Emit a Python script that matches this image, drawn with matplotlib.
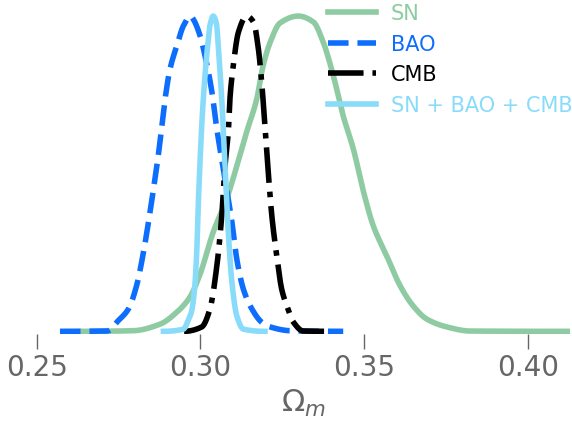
import matplotlib.pyplot as plt
import numpy as np

# marginal posteriors of Omega_m (peak normalised to 1)
sn_x = [0.2640, 0.2795, 0.2877, 0.2928, 0.2968, 0.2999, 0.3039, 0.3080, 0.3111,
        0.3141, 0.3172, 0.3191, 0.3213, 0.3243, 0.3299, 0.3345, 0.3375, 0.3406,
        0.3436, 0.3467, 0.3498, 0.3528, 0.3569, 0.3610, 0.3650, 0.3691, 0.3752,
        0.3823, 0.4128]
sn_y = [0.0, 0.002, 0.023, 0.061, 0.109, 0.182, 0.315, 0.420, 0.524,
        0.632, 0.737, 0.841, 0.917, 0.978, 1.0, 0.981, 0.917, 0.810,
        0.683, 0.578, 0.442, 0.334, 0.239, 0.144, 0.080, 0.039, 0.014,
        0.001, 0.0]

bao_x = [0.2571, 0.2715, 0.2749, 0.2780, 0.2805, 0.2826, 0.2846, 0.2861, 0.2871,
         0.2882, 0.2892, 0.2907, 0.2928, 0.2948, 0.2970, 0.2978, 0.2999, 0.3014,
         0.3035, 0.3050, 0.3065, 0.3080, 0.3096, 0.3111, 0.3131, 0.3157, 0.3187,
         0.3213, 0.3274, 0.3436]
bao_y = [0.0, 0.001, 0.034, 0.071, 0.145, 0.251, 0.378, 0.483, 0.556,
         0.651, 0.737, 0.832, 0.906, 0.969, 1.0, 0.990, 0.937, 0.874,
         0.759, 0.642, 0.546, 0.451, 0.347, 0.229, 0.134, 0.071, 0.029,
         0.014, 0.002, 0.0]

cmb_x = [0.2950, 0.3004, 0.3029, 0.3050, 0.3065, 0.3075, 0.3085, 0.3090, 0.3100,
         0.3116, 0.3141, 0.3162, 0.3177, 0.3187, 0.3197, 0.3207, 0.3218, 0.3233,
         0.3248, 0.3264, 0.3284, 0.3314, 0.3396]
cmb_y = [0.0, 0.014, 0.071, 0.207, 0.366, 0.524, 0.632, 0.737, 0.841,
         0.949, 1.0, 0.981, 0.895, 0.790, 0.651, 0.505, 0.366, 0.239,
         0.134, 0.080, 0.029, 0.001, 0.0]

all_x = [0.2887, 0.2948, 0.2962, 0.2973, 0.2982, 0.2989, 0.2994, 0.2999, 0.3005,
         0.3013, 0.3021, 0.3030, 0.3039, 0.3049, 0.3055, 0.3065, 0.3075, 0.3085,
         0.3096, 0.3111, 0.3131, 0.3197]
all_y = [0.0, 0.007, 0.033, 0.064, 0.134, 0.261, 0.420, 0.546, 0.673,
         0.800, 0.895, 0.975, 1.0, 0.975, 0.895, 0.737, 0.524, 0.315,
         0.156, 0.049, 0.007, 0.0]

xticks = [0.25, 0.30, 0.35, 0.40]

grey = '#666666'


def pchip(x, y, n=500):
    # monotone cubic through the read points, so the curves come out smooth
    x = np.asarray(x, float)
    y = np.asarray(y, float)
    h = np.diff(x)
    d = np.diff(y) / h
    m = np.zeros_like(y)
    for i in range(1, len(x) - 1):
        if d[i - 1] * d[i] > 0:
            w1 = 2 * h[i] + h[i - 1]
            w2 = h[i] + 2 * h[i - 1]
            m[i] = (w1 + w2) / (w1 / d[i - 1] + w2 / d[i])
    xs = np.linspace(x[0], x[-1], n)
    k = np.clip(np.searchsorted(x, xs) - 1, 0, len(h) - 1)
    t = (xs - x[k]) / h[k]
    h00 = 2 * t**3 - 3 * t**2 + 1
    h10 = t**3 - 2 * t**2 + t
    h01 = -2 * t**3 + 3 * t**2
    h11 = t**3 - t**2
    ys = h00 * y[k] + h10 * h[k] * m[k] + h01 * y[k + 1] + h11 * h[k] * m[k + 1]
    return xs, ys


fig = plt.figure(figsize=(5.72, 4.27), dpi=100)
ax = fig.add_axes([0.0642, 0.2143, 0.932, 0.7827])

for x, y, c, ls, lab in [
        (sn_x, sn_y, '#8ecba3', '-', 'SN'),
        (bao_x, bao_y, '#0d6efd', '--', 'BAO'),
        (cmb_x, cmb_y, 'black', '-.', 'CMB'),
        (all_x, all_y, '#88dcfa', '-', 'SN + BAO + CMB')]:
    xs, ys = pchip(x, y)
    ax.plot(xs, ys, color=c, ls=ls, lw=4, label=lab)

ax.set_xlim(0.25, 0.4128)
ax.set_ylim(-0.01, 1.05)
for s in ax.spines.values():
    s.set_visible(False)
ax.set_yticks([])
ax.set_xticks(xticks)
ax.set_xticklabels(['%.2f' % v for v in xticks])
ax.tick_params(axis='x', length=11, width=1, color=grey, labelcolor=grey,
               labelsize=20, pad=2.5)
ax.set_xlabel(r'$\Omega_m$', fontsize=22, color=grey, labelpad=4)

leg = ax.legend(loc='upper right', bbox_to_anchor=(1.033, 1.034),
                bbox_transform=fig.transFigure, frameon=False, fontsize=15,
                handlelength=2.27, handletextpad=0.72, labelspacing=0.51)
for text, line in zip(leg.get_texts(), leg.get_lines()):
    text.set_color(line.get_color())

fig.savefig('out.png', dpi=100)
